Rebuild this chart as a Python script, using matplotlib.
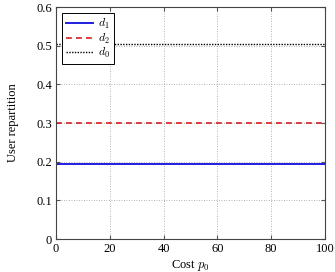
import matplotlib
matplotlib.use("Agg")
import matplotlib.pyplot as plt

plt.rcParams["font.family"] = "serif"
plt.rcParams["font.serif"] = ["Liberation Serif", "DejaVu Serif"]
plt.rcParams["mathtext.fontset"] = "cm"

# data
cost = [0, 20, 40, 60, 80, 100]
d1 = [0.195, 0.195, 0.195, 0.195, 0.195, 0.195]
d2 = [0.300, 0.300, 0.300, 0.300, 0.300, 0.300]
d0 = [0.505, 0.505, 0.505, 0.505, 0.505, 0.505]
xticks = [0, 20, 40, 60, 80, 100]
yticks = [0, 0.1, 0.2, 0.3, 0.4, 0.5, 0.6]
yticklabels = ["0", "0.1", "0.2", "0.3", "0.4", "0.5", "0.6"]

fig = plt.figure(figsize=(3.35, 2.72), dpi=100)
ax = fig.add_axes([0.167, 0.121, 0.803, 0.853])

ax.plot(cost, d1, color="#1f1fe0", lw=1.4, label="$d_1$")
ax.plot(cost, d2, color="#d62020", lw=1.2, ls=(0, (3.5, 2.5)), label="$d_2$")
ax.plot(cost, d0, color="black", lw=1.0, ls=(0, (1, 1)), label="$d_0$")

ax.set_xlim(0, 100)
ax.set_ylim(0, 0.6)
ax.set_xticks(xticks)
ax.set_yticks(yticks)
ax.set_yticklabels(yticklabels)
ax.tick_params(direction="in", labelsize=9, top=True, right=True, length=3,
               color="#555555", pad=3)
ax.grid(True, ls=(0, (1, 2)), color="#999999", lw=0.6)
for s in ax.spines.values():
    s.set_color("#444444")

ax.set_xlabel("Cost $p_0$", fontsize=9, labelpad=2)
ax.set_ylabel("User repartition", fontsize=9, labelpad=12)

leg = ax.legend(loc="upper left", fontsize=8.5, fancybox=False, framealpha=1,
                edgecolor="black", handlelength=2.3, handletextpad=0.4,
                borderaxespad=0.5, labelspacing=0.05, borderpad=0.35)
leg.get_frame().set_linewidth(0.7)

fig.savefig("out.png", dpi=100)
